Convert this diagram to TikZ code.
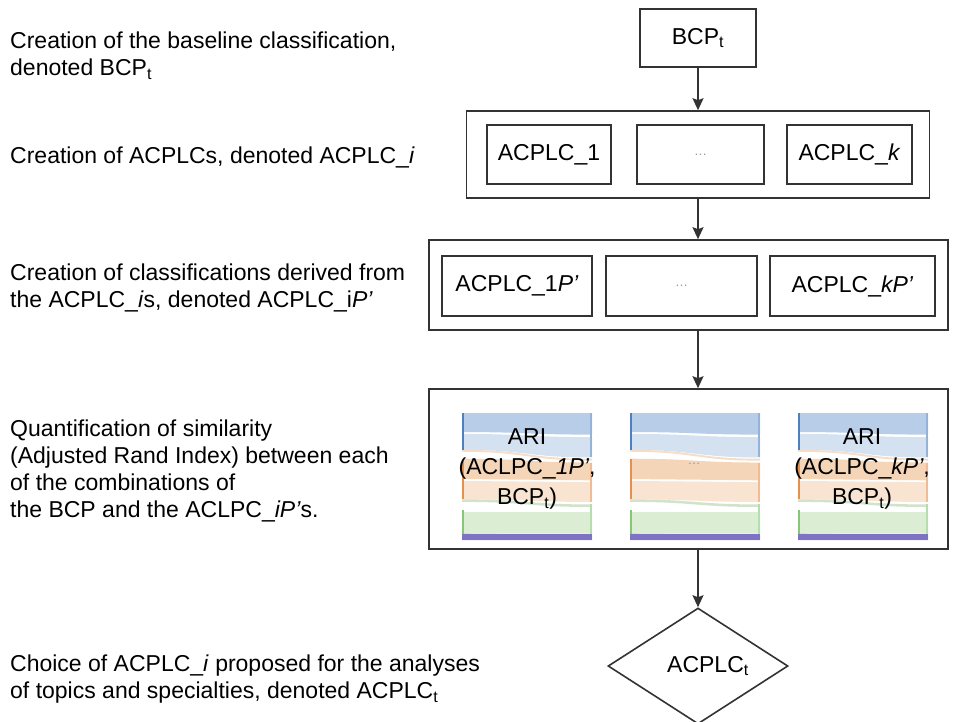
\documentclass[tikz,border=0pt]{standalone}
\usepackage{amsmath}
\usepackage{fontspec}
\setmainfont{Liberation Sans}
\usepackage{xcolor}
\usepackage{tikz}
\usetikzlibrary{shapes.geometric,arrows.meta,positioning}
\definecolor{linegray}{HTML}{333333}
\definecolor{dotgray}{HTML}{9A9A9A}
\definecolor{sbluebar}{HTML}{4F7FC0}
\definecolor{sblue}{HTML}{B8CEE8}
\definecolor{sbluelt}{HTML}{D3E1F1}
\definecolor{sorangebar}{HTML}{E39150}
\definecolor{sorange}{HTML}{F4D5B8}
\definecolor{sorangelt}{HTML}{F8E4D1}
\definecolor{sgreenbar}{HTML}{86C678}
\definecolor{sgreen}{HTML}{DBEED3}
\definecolor{spurplebar}{HTML}{7E72C4}
\definecolor{spurple}{HTML}{B9B1E0}

% one sankey band: colour, left top, left bottom, right top, right bottom
\newcommand\sankeyband[5]{%
  \fill[#1] (0,#2) .. controls (0.5,#2) and (0.5,#4) .. (1,#4)
    -- (1,#5) .. controls (0.5,#5) and (0.5,#3) .. (0,#3) -- cycle;}
% the small sankey picture inside one ARI panel
\newcommand\arisankey[1]{%
  \begin{scope}[shift={#1}, x=130pt, y=-127pt]
    \sankeyband{sblue}{0}{0.15}{0}{0.17}
    \sankeyband{sbluelt}{0.165}{0.29}{0.19}{0.35}
    \sankeyband{sorange!80}{0.29}{0.305}{0.36}{0.375}
    \sankeyband{sorange}{0.36}{0.52}{0.39}{0.53}
    \sankeyband{sorangelt}{0.535}{0.68}{0.545}{0.70}
    \sankeyband{sgreen!90!gray}{0.68}{0.70}{0.72}{0.74}
    \sankeyband{sgreen}{0.78}{0.95}{0.78}{0.95}
    \sankeyband{spurple}{0.95}{1}{0.96}{1}
    \fill[sbluebar] (0,0) rectangle (0.015,0.29);
    \fill[sorangebar] (0,0.36) rectangle (0.015,0.68);
    \fill[sgreenbar] (0,0.76) rectangle (0.015,0.95);
    \fill[spurplebar] (0,0.95) rectangle (1,1);
    \fill[sbluebar!60] (0.985,0) rectangle (1,0.35);
    \fill[sorangebar!60] (0.985,0.39) rectangle (1,0.70);
    \fill[sgreenbar!60] (0.985,0.72) rectangle (1,0.95);
  \end{scope}}

\begin{document}
\begin{tikzpicture}[
  x=1pt, y=-1pt,
  every node/.style={font=\fontsize{23}{27}\selectfont, text=black},
  stepbox/.style={rectangle, draw=linegray, line width=1.6pt, inner sep=0pt},
  groupbox/.style={stepbox, fill=white},
  steptext/.style={anchor=west, align=left, inner sep=0pt},
  aritext/.style={align=center, inner sep=0pt, font=\fontsize{23}{30}\selectfont},
  dots/.style={font=\fontsize{13}{15}\selectfont, text=dotgray},
  arr/.style={-{Stealth[length=12pt, width=11pt, inset=2pt]}, draw=linegray, line width=1.6pt}
]
\useasboundingbox (0,0) rectangle (960,721);

% Baseline classification
\node[stepbox, minimum width=116pt, minimum height=58pt] (bcp) at (698,38) {BCP$_\text{t}$};

% ACPLCs
\node[groupbox, minimum width=463pt, minimum height=87pt] (acplc) at (698,154.5) {};
\node[stepbox, minimum width=124pt, minimum height=59pt] (acplcone) at (549,154.5) {ACPLC\_1};
\node[stepbox, minimum width=127pt, minimum height=59pt, dots] (acplcdots) at (700.5,154.5) {\dots};
\node[stepbox, minimum width=125pt, minimum height=59pt] (acplck) at (849.5,154.5) {ACPLC\_\textit{k}};

% Derived classifications
\node[groupbox, minimum width=519pt, minimum height=90pt] (derived) at (688.5,285) {};
\node[stepbox, minimum width=150pt, minimum height=60pt] (derivedone) at (517,286) {ACPLC\_1\textit{P'}};
\node[stepbox, minimum width=151pt, minimum height=60pt, dots] (deriveddots) at (681.5,286) {\dots};
\node[stepbox, minimum width=165pt, minimum height=60pt] (derivedk) at (852.5,286) {ACPLC\_\textit{kP'}};

% ARI comparisons
\node[groupbox, minimum width=519pt, minimum height=160pt] (ari) at (688.5,469) {};
\arisankey{(462,413)}
\arisankey{(630,413)}
\arisankey{(798,413)}
\node[aritext] (arione) at (527,469) {ARI\\(ACLPC\_\textit{1P'},\\BCP$_\text{t}$)};
\node[dots, inner sep=0pt] (aridots) at (694,464) {\dots};
\node[aritext] (arik) at (862,469) {ARI\\(ACLPC\_\textit{kP'},\\BCP$_\text{t}$)};

% Choice
\node[diamond, draw=linegray, line width=1.6pt, fill=white, minimum width=180pt, minimum height=116pt, inner sep=0pt] (choice) at (698,666) {};
\node[inner sep=0pt] (choicelabel) at (708,666) {ACPLC$_\text{t}$};

% Arrows
\draw[arr] (bcp) -- (acplc);
\draw[arr] (acplc.south) -- (acplc.south |- derived.north);
\draw[arr] (acplc.south |- derived.south) -- (acplc.south |- ari.north);
\draw[arr] (acplc.south |- ari.south) -- (choice.north);

% Step descriptions
\node[steptext] (stepone) at (10,56) {Creation of the baseline classification,\\denoted BCP$_\text{t}$};
\node[steptext] (steptwo) at (10,157) {Creation of ACPLCs, denoted ACPLC\_\textit{i}};
\node[steptext] (stepthree) at (10,288) {Creation of classifications derived from\\the ACPLC\_\textit{i}s, denoted ACPLC\_i\textit{P'}};
\node[steptext] (stepfour) at (10,471) {Quantification of similarity\\(Adjusted Rand Index) between each\\of the combinations of\\the BCP and the ACLPC\_\textit{iP'}s.};
\node[steptext] (stepfive) at (10,679) {Choice of ACPLC\_\textit{i} proposed for the analyses\\of topics and specialties, denoted ACPLC$_\text{t}$};

\end{tikzpicture}
\end{document}
